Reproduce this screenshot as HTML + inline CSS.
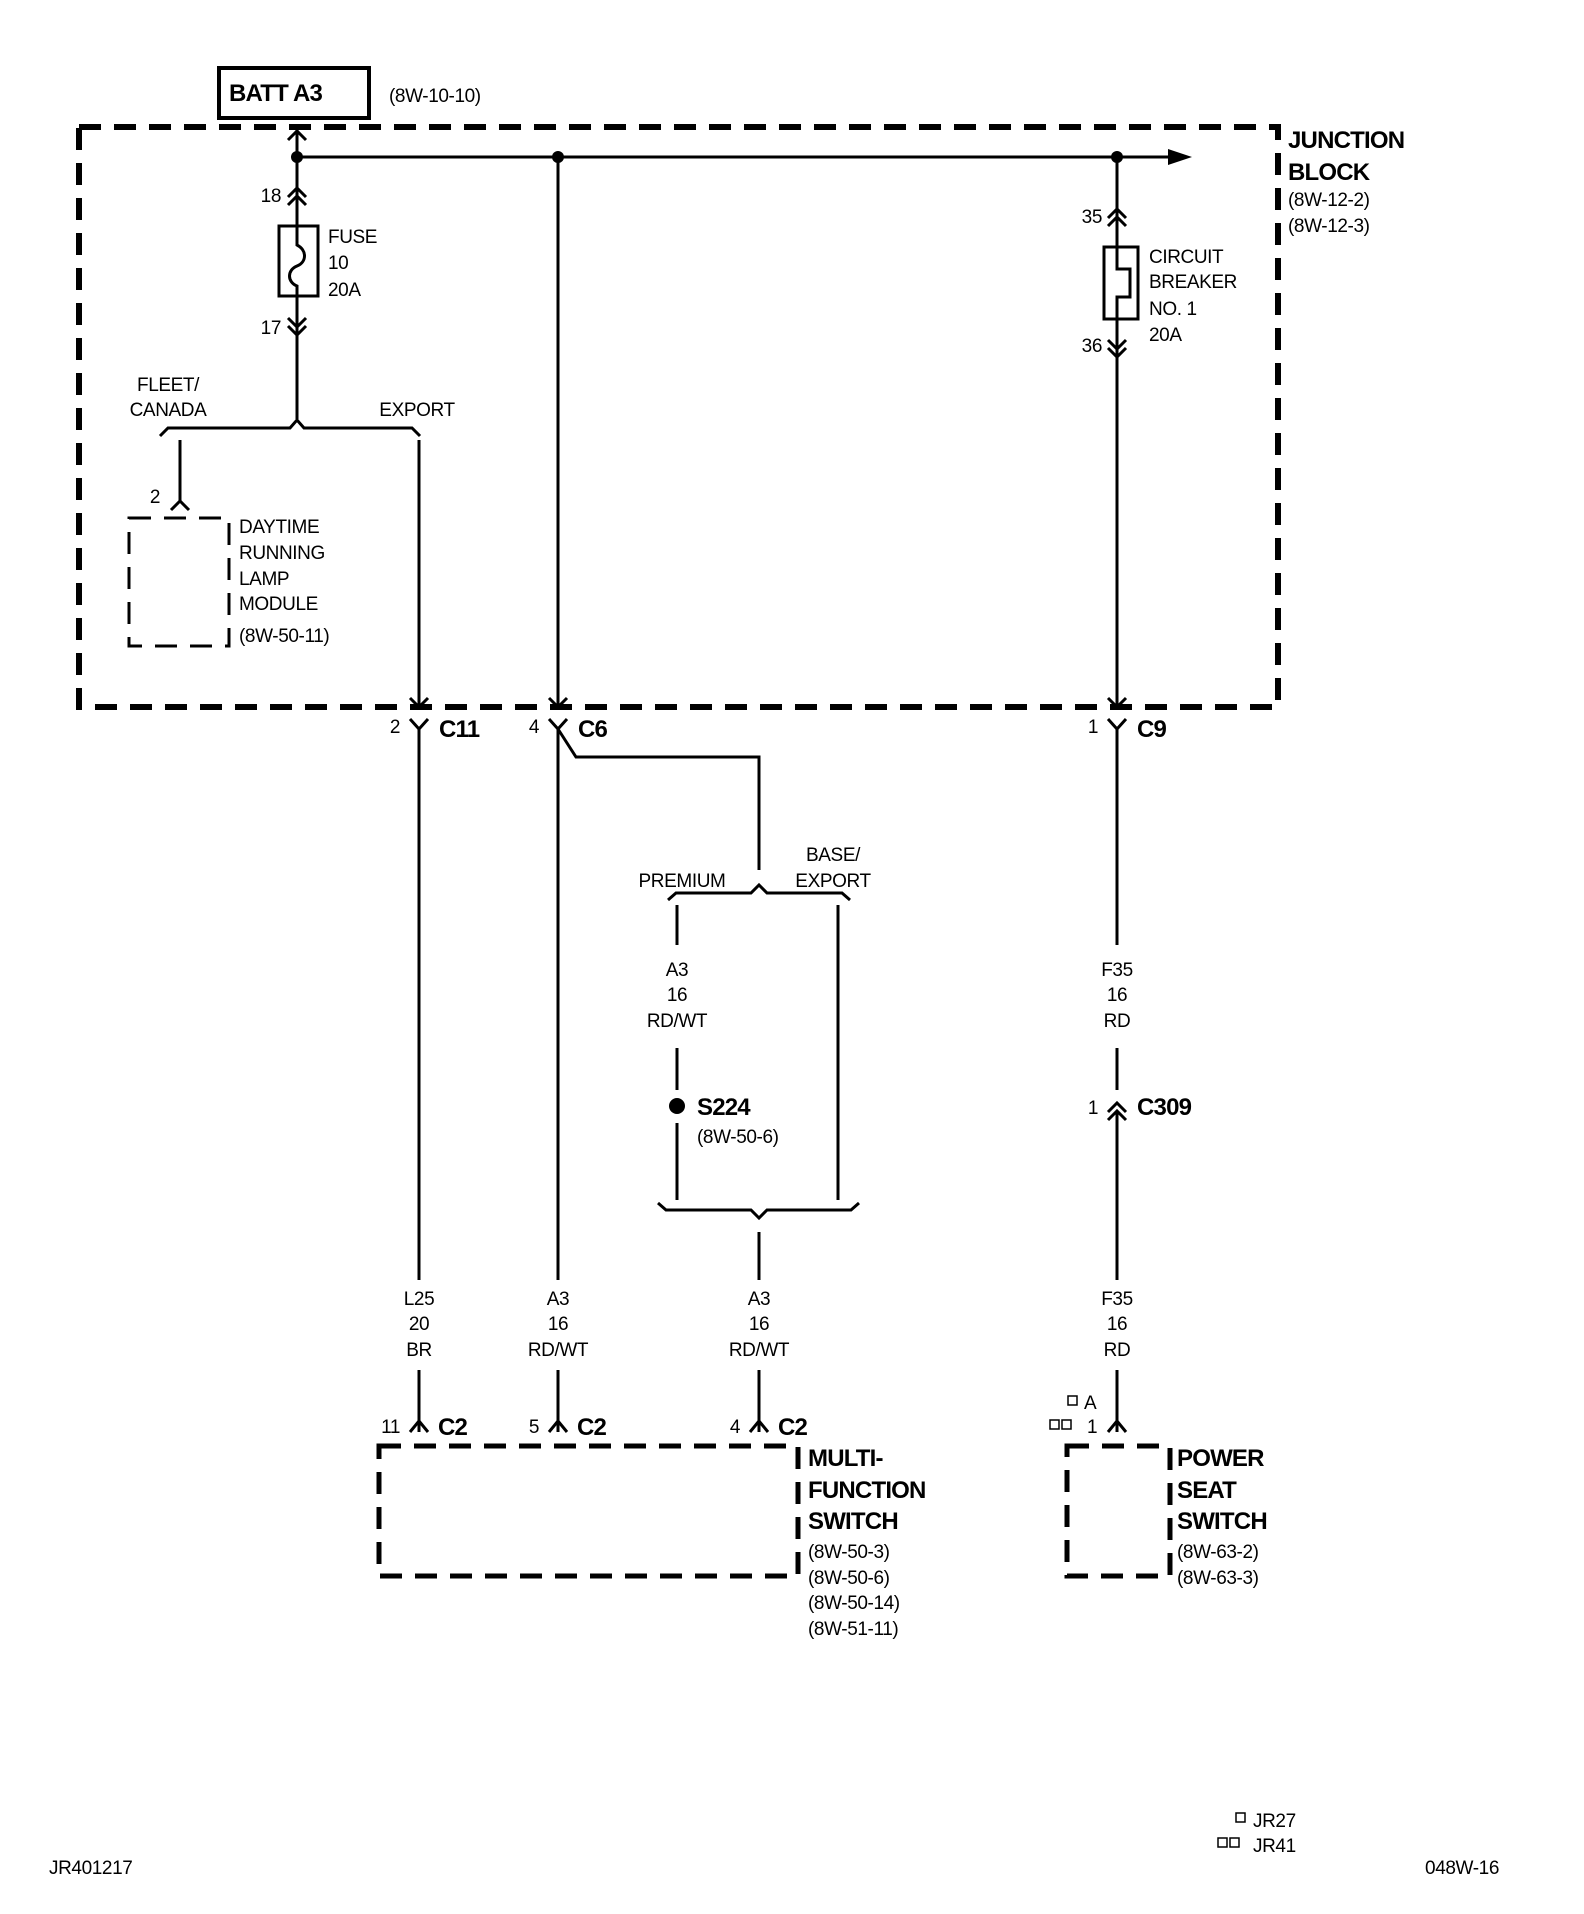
<!DOCTYPE html>
<html><head><meta charset="utf-8"><style>
html,body{margin:0;padding:0;background:#fff;}
svg{display:block;}
text{font-family:"Liberation Sans Narrow","Liberation Sans",sans-serif;fill:#000;font-size:19px;letter-spacing:-0.4px;}
.b{font-weight:bold;font-size:24px;letter-spacing:-0.8px;}
.m{text-anchor:middle;}
.e{text-anchor:end;}
</style></head><body>
<svg width="1584" height="1914" viewBox="0 0 1584 1914" xmlns="http://www.w3.org/2000/svg">
<g fill="none" stroke="#000" stroke-width="3">
<rect x="79" y="127" width="1199" height="580" stroke-width="6" stroke-dasharray="22,13"/>
<rect x="219" y="68" width="150" height="50" stroke-width="4"/>
<line x1="297" y1="127" x2="297" y2="419"/>
<polyline points="288,140 297,131 306,140"/>
<line x1="297" y1="157" x2="1170" y2="157"/>
<polyline points="288,197 297,188 306,197"/><polyline points="288,205 297,196 306,205"/>
<rect x="279" y="226" width="39" height="70" fill="#fff"/>
<path d="M297 226 V245 C307 250 307 262 297 266 C287 270 287 282 297 286 V296"/>
<polyline points="288,318 297,327 306,318"/><polyline points="288,326 297,335 306,326"/>
<path d="M160 436 L168 428 L290 428 L297 420 L304 428 L412 428 L420 436"/>
<line x1="180" y1="440" x2="180" y2="502"/>
<polyline points="171,510 180,501 189,510"/>
<rect x="129" y="518" width="100" height="128" stroke-dasharray="22,13"/>
<line x1="419" y1="440" x2="419" y2="707"/>
<polyline points="410,698 419,707 428,698"/>
<polyline points="410,719 419,729 428,719"/><line x1="419" y1="729" x2="419" y2="1280"/>
<line x1="558" y1="157" x2="558" y2="707"/>
<polyline points="549,698 558,707 567,698"/>
<line x1="549" y1="719" x2="558" y2="729"/>
<polyline points="567,719 558,729 558,1280"/>
<polyline points="558,729 576,757 759,757 759,870"/>
<path d="M668 900 L676 893 L751 893 L759 885 L767 893 L842 893 L850 900"/>
<line x1="677" y1="905" x2="677" y2="945"/>
<line x1="677" y1="1048" x2="677" y2="1090"/>
<line x1="677" y1="1123" x2="677" y2="1200"/>
<line x1="838" y1="905" x2="838" y2="1200"/>
<path d="M658 1203 L666 1210 L751 1210 L759 1218 L767 1210 L851 1210 L859 1203"/>
<line x1="759" y1="1232" x2="759" y2="1280"/>
<line x1="1117" y1="157" x2="1117" y2="707"/>
<polyline points="1108,218 1117,209 1126,218"/><polyline points="1108,226 1117,217 1126,226"/>
<rect x="1104" y="247" width="34" height="72" fill="#fff"/>
<polyline points="1117,247 1117,269 1130,269 1130,297 1117,297 1117,319"/>
<polyline points="1108,340 1117,349 1126,340"/><polyline points="1108,348 1117,357 1126,348"/>
<polyline points="1108,698 1117,707 1126,698"/>
<polyline points="1108,719 1117,729 1126,719"/>
<line x1="1117" y1="729" x2="1117" y2="945"/>
<line x1="1117" y1="1048" x2="1117" y2="1090"/>
<polyline points="1108,1112 1117,1103 1126,1112"/><polyline points="1108,1120 1117,1111 1126,1120"/>
<line x1="1117" y1="1111" x2="1117" y2="1280"/>
<line x1="419" y1="1370" x2="419" y2="1432"/>
<line x1="558" y1="1370" x2="558" y2="1432"/>
<line x1="759" y1="1370" x2="759" y2="1432"/>
<line x1="1117" y1="1370" x2="1117" y2="1432"/>
<polyline points="410,1432 419,1421 428,1432"/>
<polyline points="549,1432 558,1421 567,1432"/>
<polyline points="750,1432 759,1421 768,1432"/>
<polyline points="1108,1432 1117,1421 1126,1432"/>
<rect x="379" y="1446" width="419" height="130" stroke-width="5" stroke-dasharray="22,13"/>
<rect x="1067" y="1446" width="103" height="130" stroke-width="5" stroke-dasharray="22,13"/>
<rect x="1068" y="1396" width="9" height="9" stroke-width="1.5"/>
<rect x="1050" y="1420" width="9" height="9" stroke-width="1.5"/>
<rect x="1062" y="1420" width="9" height="9" stroke-width="1.5"/>
<rect x="1236" y="1813" width="9" height="9" stroke-width="1.5"/>
<rect x="1218" y="1838" width="9" height="9" stroke-width="1.5"/>
<rect x="1230" y="1838" width="9" height="9" stroke-width="1.5"/>
</g>
<g fill="#000">
<circle cx="297" cy="157" r="6"/><circle cx="558" cy="157" r="6"/><circle cx="1117" cy="157" r="6"/>
<polygon points="1168,149 1192,157 1168,165"/>
<circle cx="677" cy="1106" r="8"/>
</g>
<text class="b" x="229" y="101">BATT A3</text>
<text x="389" y="102">(8W-10-10)</text>
<text class="b" x="1288" y="148">JUNCTION</text>
<text class="b" x="1288" y="180">BLOCK</text>
<text x="1288" y="206">(8W-12-2)</text>
<text x="1288" y="232">(8W-12-3)</text>
<text class="e" x="281" y="202">18</text>
<text class="e" x="281" y="334">17</text>
<text x="328" y="243">FUSE</text><text x="328" y="269">10</text><text x="328" y="296">20A</text>
<text class="m" x="168" y="391">FLEET/</text><text class="m" x="168" y="416">CANADA</text>
<text class="m" x="417" y="416">EXPORT</text>
<text class="e" x="160" y="503">2</text>
<text x="239" y="533">DAYTIME</text><text x="239" y="559">RUNNING</text><text x="239" y="585">LAMP</text><text x="239" y="610">MODULE</text><text x="239" y="642">(8W-50-11)</text>
<text class="e" x="1102" y="223">35</text><text class="e" x="1102" y="352">36</text>
<text x="1149" y="263">CIRCUIT</text><text x="1149" y="288">BREAKER</text><text x="1149" y="315">NO. 1</text><text x="1149" y="341">20A</text>
<text class="e" x="400" y="733">2</text><text class="b" x="439" y="737">C11</text>
<text class="e" x="539" y="733">4</text><text class="b" x="578" y="737">C6</text>
<text class="e" x="1098" y="733">1</text><text class="b" x="1137" y="737">C9</text>
<text class="m" x="682" y="887">PREMIUM</text>
<text class="m" x="833" y="861">BASE/</text><text class="m" x="833" y="887">EXPORT</text>
<text class="m" x="677" y="976">A3</text><text class="m" x="677" y="1001">16</text><text class="m" x="677" y="1027">RD/WT</text>
<text class="m" x="1117" y="976">F35</text><text class="m" x="1117" y="1001">16</text><text class="m" x="1117" y="1027">RD</text>
<text class="b" x="697" y="1115">S224</text><text x="697" y="1143">(8W-50-6)</text>
<text class="e" x="1098" y="1114">1</text><text class="b" x="1137" y="1115">C309</text>
<text class="m" x="419" y="1305">L25</text><text class="m" x="419" y="1330">20</text><text class="m" x="419" y="1356">BR</text>
<text class="m" x="558" y="1305">A3</text><text class="m" x="558" y="1330">16</text><text class="m" x="558" y="1356">RD/WT</text>
<text class="m" x="759" y="1305">A3</text><text class="m" x="759" y="1330">16</text><text class="m" x="759" y="1356">RD/WT</text>
<text class="m" x="1117" y="1305">F35</text><text class="m" x="1117" y="1330">16</text><text class="m" x="1117" y="1356">RD</text>
<text class="e" x="400" y="1433">11</text><text class="b" x="438" y="1435">C2</text>
<text class="e" x="539" y="1433">5</text><text class="b" x="577" y="1435">C2</text>
<text class="e" x="740" y="1433">4</text><text class="b" x="778" y="1435">C2</text>
<text x="1084" y="1409">A</text><text x="1087" y="1433">1</text>
<text class="b" x="808" y="1466">MULTI-</text><text class="b" x="808" y="1498">FUNCTION</text><text class="b" x="808" y="1529">SWITCH</text>
<text x="808" y="1558">(8W-50-3)</text><text x="808" y="1584">(8W-50-6)</text><text x="808" y="1609">(8W-50-14)</text><text x="808" y="1635">(8W-51-11)</text>
<text class="b" x="1177" y="1466">POWER</text><text class="b" x="1177" y="1498">SEAT</text><text class="b" x="1177" y="1529">SWITCH</text>
<text x="1177" y="1558">(8W-63-2)</text><text x="1177" y="1584">(8W-63-3)</text>
<text x="1253" y="1827">JR27</text><text x="1253" y="1852">JR41</text>
<text x="49" y="1874">JR401217</text>
<text class="e" x="1499" y="1874">048W-16</text>
</svg>
</body></html>
